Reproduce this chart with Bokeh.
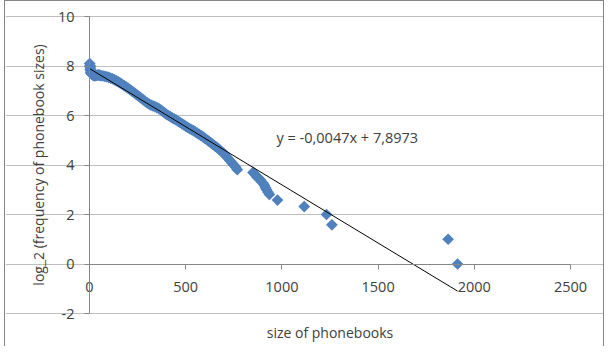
import numpy as np
from bokeh.plotting import figure
from bokeh.models import Range1d, FixedTicker, Label
from bokeh.embed import file_html
from bokeh.resources import INLINE

# ---- data ----
size_of_phonebooks = [
    1, 2, 3, 4, 5, 6, 7, 8, 10, 12,
    15, 18, 22, 26, 30, 35, 40, 45, 50, 55,
    60, 70, 80, 90, 100, 110, 120, 130, 140, 150,
    160, 170, 180, 190, 200, 210, 220, 230, 240, 250,
    260, 270, 280, 290, 300, 310, 320, 330, 340, 350,
    360, 370, 380, 390, 400, 410, 420, 430, 440, 450,
    460, 470, 480, 490, 500, 510, 520, 530, 540, 550,
    560, 570, 580, 590, 600, 610, 620, 630, 640, 650,
    660, 670, 680, 690, 700, 710, 720, 730, 740, 750,
    760, 768, 850, 858, 865, 872, 880, 888, 895, 903,
    910, 915, 920, 928, 935, 977, 1116, 1232, 1260, 1864,
    1913,
]
log2_frequency = [
    8.10, 7.98, 8.02, 7.85, 7.92, 7.75, 7.82, 7.70, 7.74, 7.68,
    7.66, 7.63, 7.62, 7.60, 7.61, 7.62, 7.63, 7.64, 7.63, 7.62,
    7.61, 7.60, 7.58, 7.56, 7.54, 7.51, 7.48, 7.44, 7.40, 7.36,
    7.31, 7.26, 7.21, 7.16, 7.11, 7.05, 6.99, 6.93, 6.87, 6.81,
    6.75, 6.69, 6.63, 6.57, 6.51, 6.46, 6.42, 6.39, 6.36, 6.32,
    6.28, 6.23, 6.17, 6.11, 6.05, 6.00, 5.95, 5.90, 5.86, 5.82,
    5.77, 5.72, 5.67, 5.62, 5.57, 5.52, 5.47, 5.43, 5.39, 5.34,
    5.29, 5.24, 5.19, 5.14, 5.08, 5.02, 4.96, 4.90, 4.84, 4.78,
    4.72, 4.66, 4.59, 4.52, 4.45, 4.36, 4.27, 4.18, 4.09, 4.00,
    3.91, 3.81, 3.70, 3.64, 3.58, 3.50, 3.46, 3.40, 3.32, 3.25,
    3.17, 3.08, 3.00, 2.90, 2.81, 2.585, 2.32, 2.00, 1.585, 1.00,
    0.00,
]
trend_slope = -0.0047
trend_intercept = 7.8973
equation_text = "y = -0,0047x + 7,8973"

x_ticks = [0, 500, 1000, 1500, 2000, 2500]
x_tick_labels = ["0", "500", "1000", "1500", "2000", "2500"]
y_ticks = [-2, 0, 2, 4, 6, 8, 10]
y_tick_labels = ["-2", "0", "2", "4", "6", "8", "10"]
x_label = "size of phonebooks"
y_label = "log_2 (frequency of phonebook sizes)"

# ---- layout: the frame fills the whole canvas; the plot area is placed
# inside it through the ranges (so axes crossing at 0 are not clipped) ----
W, H = 600, 346
AREA_L, AREA_R, AREA_T, AREA_B = 84, 565, 15, 312   # plot area in canvas px
X0, X1 = x_ticks[0], x_ticks[-1]
Y0, Y1 = y_ticks[0], y_ticks[-1]
ux = (X1 - X0) / (AREA_R - AREA_L)
uy = (Y1 - Y0) / (AREA_B - AREA_T)
x_range = Range1d(X0 - AREA_L * ux, X1 + (W - AREA_R) * ux)
y_range = Range1d(Y0 - (H - AREA_B) * uy, Y1 + AREA_T * uy)

FONT = "Open Sans"
TXT = "#404040"
AXIS = "#868686"
GRID = "#BFBFBF"
BLUE = "#4F81BD"

p = figure(width=W, height=H, output_backend="svg", toolbar_location=None,
           x_range=x_range, y_range=y_range,
           min_border=0, min_border_left=0, min_border_right=0,
           min_border_top=0, min_border_bottom=0)
p.styles = {
    "border-top": "1px solid #868686",
    "border-left": "1px solid #868686",
    "border-right": "1px solid #868686",
    "margin-left": "4px",
}
p.background_fill_color = "white"
p.border_fill_color = "white"
p.outline_line_color = None

xa = p.xaxis[0]
xa.fixed_location = 0
xa.bounds = (X0, X1)
xa.ticker = FixedTicker(ticks=x_ticks)
xa.major_label_overrides = {t: l for t, l in zip(x_ticks, x_tick_labels)}
xa.minor_tick_line_color = None
xa.major_tick_in = 0
xa.major_tick_out = 5
xa.axis_line_color = AXIS
xa.major_tick_line_color = AXIS
xa.major_label_standoff = 13
xa.major_label_text_font = FONT
xa.major_label_text_font_size = "14.5px"
xa.major_label_text_color = TXT

ya = p.yaxis[0]
ya.fixed_location = X0
ya.bounds = (Y0, Y1)
ya.ticker = FixedTicker(ticks=y_ticks)
ya.major_label_overrides = {t: l for t, l in zip(y_ticks, y_tick_labels)}
ya.minor_tick_line_color = None
ya.major_tick_in = 0
ya.major_tick_out = 5
ya.axis_line_color = AXIS
ya.major_tick_line_color = AXIS
ya.major_label_standoff = 10
ya.major_label_text_font = FONT
ya.major_label_text_font_size = "14.5px"
ya.major_label_text_color = TXT
ya.axis_label = y_label
ya.axis_label_text_font = FONT
ya.axis_label_text_font_size = "14px"
ya.axis_label_text_font_style = "normal"
ya.axis_label_text_color = TXT
ya.axis_label_standoff = 7

p.xgrid.visible = False
p.ygrid.ticker = FixedTicker(ticks=y_ticks)
p.ygrid.bounds = (X0, X1)
p.ygrid.grid_line_color = GRID

p.scatter(size_of_phonebooks, log2_frequency, marker="square", angle=np.pi / 4,
          size=8.3, fill_color=BLUE, line_color=None)

x_end = max(size_of_phonebooks)
p.line([0, x_end], [trend_intercept, trend_intercept + trend_slope * x_end],
       line_color="black", line_width=1)

p.add_layout(Label(x=972, y=5.12, text=equation_text, text_font=FONT,
                   text_font_size="14.5px", text_color=TXT, text_baseline="middle"))
p.add_layout(Label(x=(X0 + X1) / 2, y=Y0, y_offset=-19, text=x_label, text_font=FONT,
                   text_font_size="14px", text_color=TXT, text_align="center",
                   text_baseline="middle"))

open("out.html", "w").write(file_html(p, INLINE))
